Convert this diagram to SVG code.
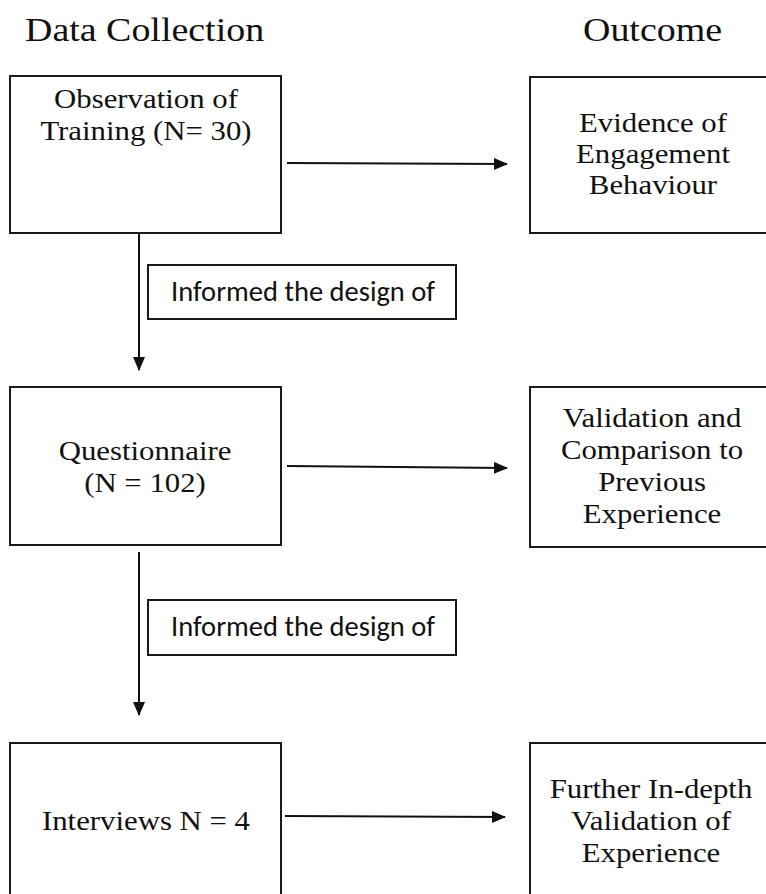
<svg xmlns="http://www.w3.org/2000/svg" width="766" height="894" viewBox="0 0 766 894">
<style>
.box{fill:#fff;stroke:#1a1a1a;stroke-width:2}
.t{font-family:"Liberation Serif","Times New Roman",serif;font-size:28px;fill:#111;text-anchor:middle}
.h{font-family:"Liberation Serif","Times New Roman",serif;font-size:34.5px;fill:#111}
.lbl{font-family:"Carlito","Liberation Sans",Arial,sans-serif;font-size:28.5px;fill:#111;text-anchor:middle}
.c{stroke:#111;stroke-width:2;fill:none}
</style>
<defs>
<marker id="ah" viewBox="0 0 14 12" refX="13" refY="6" markerWidth="14" markerHeight="12" markerUnits="userSpaceOnUse" orient="auto">
<path d="M0,0 L14,6 L0,12 Z" fill="#111"/>
</marker>
</defs>
<rect width="766" height="894" fill="#fff"/>
<g id="headers">
<g transform="translate(25,0) scale(1.1,1)"><text class="h" x="0" y="41">Data Collection</text></g>
<g transform="translate(583,0) scale(1.1,1)"><text class="h" x="0" y="41">Outcome</text></g>
</g>
<g id="n-observation">
<rect class="box" x="10" y="76" width="271" height="157"/>
<g transform="translate(146,0) scale(1.1,1)">
<text class="t" x="0" y="108">Observation of</text>
<text class="t" x="0" y="140">Training (N= 30)</text>
</g>
</g>
<g id="n-evidence">
<rect class="box" x="530" y="77" width="250" height="156"/>
<g transform="translate(653,0) scale(1.1,1)">
<text class="t" x="0" y="132">Evidence of</text>
<text class="t" x="0" y="163">Engagement</text>
<text class="t" x="0" y="194">Behaviour</text>
</g>
</g>
<g id="n-label1">
<rect class="box" x="148" y="265" width="308" height="54" stroke-width="1.5"/>
<text class="lbl" x="303" y="301">Informed the design of</text>
</g>
<g id="n-questionnaire">
<rect class="box" x="10" y="387" width="271" height="158"/>
<g transform="translate(145,0) scale(1.1,1)">
<text class="t" x="0" y="460">Questionnaire</text>
<text class="t" x="0" y="492">(N = 102)</text>
</g>
</g>
<g id="n-validation">
<rect class="box" x="530" y="387" width="250" height="160"/>
<g transform="translate(652,0) scale(1.1,1)">
<text class="t" x="0" y="427">Validation and</text>
<text class="t" x="0" y="459">Comparison to</text>
<text class="t" x="0" y="491">Previous</text>
<text class="t" x="0" y="523">Experience</text>
</g>
</g>
<g id="n-label2">
<rect class="box" x="148" y="600" width="308" height="55" stroke-width="1.5"/>
<text class="lbl" x="303" y="636">Informed the design of</text>
</g>
<g id="n-interviews">
<rect class="box" x="10" y="743" width="271" height="170"/>
<g transform="translate(146,0) scale(1.1,1)">
<text class="t" x="0" y="830">Interviews N = 4</text>
</g>
</g>
<g id="n-further">
<rect class="box" x="530" y="743" width="250" height="170"/>
<g transform="translate(651,0) scale(1.1,1)">
<text class="t" x="0" y="798">Further In-depth</text>
<text class="t" x="0" y="830">Validation of</text>
<text class="t" x="0" y="862">Experience</text>
</g>
</g>
<g id="connectors">
<line class="c" x1="287" y1="163" x2="507" y2="164" marker-end="url(#ah)"/>
<line class="c" x1="139" y1="233" x2="139" y2="370" marker-end="url(#ah)"/>
<line class="c" x1="287" y1="466" x2="507" y2="468" marker-end="url(#ah)"/>
<line class="c" x1="139" y1="552" x2="139" y2="715" marker-end="url(#ah)"/>
<line class="c" x1="285" y1="816" x2="505" y2="817" marker-end="url(#ah)"/>
</g>
</svg>
